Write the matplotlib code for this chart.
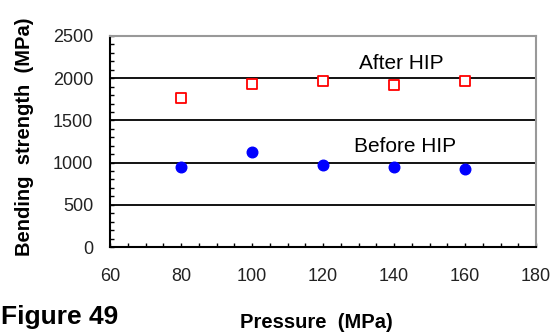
import numpy as np
import matplotlib
matplotlib.use('Agg')
import matplotlib.pyplot as plt
from matplotlib.ticker import MultipleLocator

pressure = [80, 100, 120, 140, 160]
after_hip = [1765, 1930, 1970, 1920, 1970]
before_hip = [950, 1125, 970, 950, 925]

fig = plt.figure(figsize=(5.58, 3.34), dpi=100)
ax = fig.add_axes([110/558, 1-247/334, 426/558, 211/334])

# horizontal grid lines
for yv in [500, 1000, 1500, 2000]:
    ax.axhline(yv, color='black', lw=1.3, zorder=1)

ax.scatter(pressure, after_hip, marker='s', s=50, facecolors='white',
           edgecolors='red', linewidths=1.3, zorder=3)
ax.scatter(pressure, before_hip, marker='o', s=58, color='blue', zorder=3)

ax.text(142, 2170, 'After HIP', ha='center', va='center', fontsize=15, family='Liberation Sans')
ax.text(143, 1195, 'Before HIP', ha='center', va='center', fontsize=15, family='Liberation Sans')

ax.set_xlim(60, 180)
ax.set_ylim(0, 2500)
ax.xaxis.set_major_locator(MultipleLocator(20))
ax.xaxis.set_minor_locator(MultipleLocator(5))
ax.yaxis.set_major_locator(MultipleLocator(500))
ax.yaxis.set_minor_locator(MultipleLocator(100))
ax.tick_params(which='both', direction='in', length=3, width=1, labelsize=13,
               labelcolor='#222222')
ax.tick_params(axis='x', which='major', pad=15)
ax.tick_params(axis='y', which='major', pad=12)
ax.tick_params(which='both', top=False, right=False)
for lab in ax.get_xticklabels() + ax.get_yticklabels():
    lab.set_family('Liberation Sans')

ax.spines['left'].set_linewidth(1.5)
ax.spines['bottom'].set_linewidth(1.5)
ax.spines['top'].set_color('#999999')
ax.spines['right'].set_color('#999999')
ax.spines['top'].set_linewidth(1.5)
ax.spines['right'].set_linewidth(1.5)

fig.text(25/558, 1-137/334, 'Bending  strength  (MPa)', rotation=90, ha='center', va='center',
         fontsize=14.5, fontweight='bold', family='Liberation Sans')
fig.text(316/558, 1-322/334, 'Pressure  (MPa)', ha='center', va='center',
         fontsize=14.5, fontweight='bold', family='Liberation Sans')
fig.text(1/558, 1-317/334, 'Figure 49', ha='left', va='center',
         fontsize=19, fontweight='bold', family='Liberation Sans')

fig.savefig('out.png', dpi=100)
